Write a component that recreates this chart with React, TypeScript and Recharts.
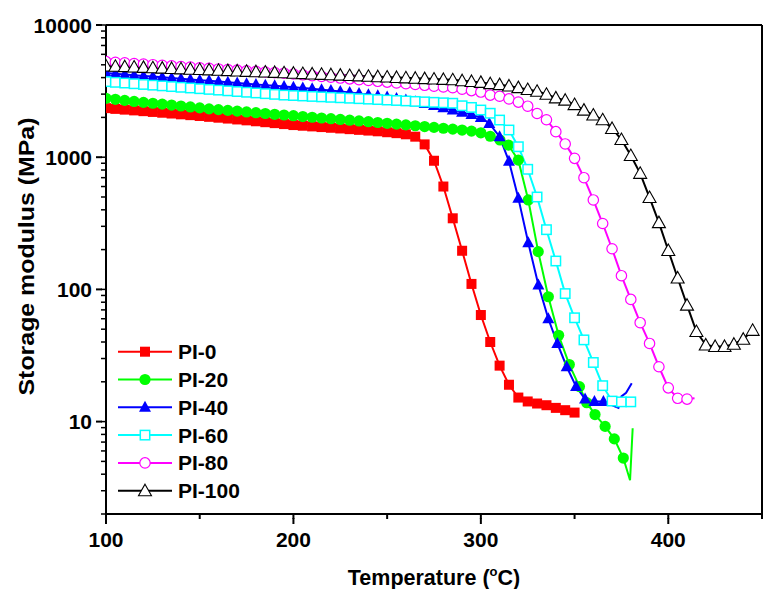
import React from 'react';
import { LineChart, Line, XAxis, YAxis, ReferenceLine } from 'recharts';

// ---------- data ----------
const pi0Temps = [100,105,110,115,120,125,130,135,140,145,150,155,160,165,170,175,180,185,190,195,200,205,210,215,220,225,230,235,240,245,250,255,260,265,270,275,280,285,290,295,300,305,310,315,320,325,330,335,340,345,350];
const pi0Values = [2350,2320,2290,2260,2230,2200,2170,2140,2110,2080,2050,2020,1990,1960,1930,1900,1870,1840,1810,1780,1750,1730,1710,1690,1670,1650,1630,1610,1590,1570,1545,1520,1490,1430,1250,940,600,345,196,110,64,40,26.5,19,15.2,14.2,13.7,13.3,12.7,12.2,11.7];

const pi20Temps = [100,105,110,115,120,125,130,135,140,145,150,155,160,165,170,175,180,185,190,195,200,205,210,215,220,225,230,235,240,245,250,255,260,265,270,275,280,285,290,295,300,305,310.2,314.7,320,325.3,330.6,336,341.5,347.2,352.6,356.5,360.9,366.3,371.2,376,379.6,381];
const pi20Values = [2790,2740,2690,2640,2600,2560,2520,2480,2440,2400,2360,2320,2290,2260,2230,2200,2170,2140,2110,2085,2060,2030,2005,1980,1955,1930,1905,1880,1855,1830,1805,1780,1755,1730,1705,1680,1655,1630,1605,1575,1530,1440,1349,1236,950,475,193,88,45,27,18.4,13.9,11.3,9.2,7.4,5.3,3.6,8.9];

const pi40Temps = [100,105,110,115,120,125,130,135,140,145,150,155,160,165,170,175,180,185,190,195,200,205,210,215,220,225,230,235,240,245,250,255,260,265,270,275,280,285,290,295,300,304.5,310,315,320,325.3,330.7,336,340.8,345.8,350.8,355.6,360.6,365.4,373.4,375,377.5,380.5];
const pi40Values = [4330,4277,4224,4172,4121,4070,4020,3971,3922,3874,3826,3779,3733,3687,3642,3597,3553,3509,3466,3423,3380,3335,3290,3240,3190,3140,3085,3030,2970,2910,2850,2780,2710,2630,2550,2460,2370,2280,2190,2100,2000,1800,1430,930,490,225,108,60,39,26,18.4,14.8,14.2,14.2,12.7,15.5,16.5,19.5];

const pi60Temps = [100,105,110,115,120,125,130,135,140,145,150,155,160,165,170,175,180,185,190,195,200,205,210,215,220,225,230,235,240,245,250,255,260,265,270,275,280,285,290,295,300,305,310,315,320,325,330,335,340,345,350,355,360,365,370,375,380];
const pi60Values = [3730,3684,3639,3594,3550,3507,3464,3421,3379,3338,3297,3257,3217,3177,3138,3100,3062,3024,2987,2950,2927,2904,2881,2859,2837,2815,2793,2771,2749,2728,2706,2685,2664,2643,2622,2601,2580,2560,2450,2380,2275,2150,1910,1606,1200,810,500,283,164,93,61,41.5,28,18.7,14.3,14.1,14.1];

const pi80Temps = [100,105,110,115,120,125,130,135,140,145,150,155,160,165,170,175,180,185,190,195,200,205,210,215,220,225,230,235,240,245,250,255,260,265,270,275,280,285,290,295,300,305,310,315,320,325,330,335,340,345,350,355,360,365,370,375,380,385,390,395,400,405,410,414];
const pi80Values = [5280,5225,5170,5115,5061,5008,4955,4903,4852,4801,4750,4700,4651,4602,4553,4506,4458,4411,4365,4320,4260,4200,4140,4082,4025,3970,3913,3860,3805,3752,3700,3648,3597,3547,3497,3448,3400,3352,3270,3190,3110,2950,2890,2760,2610,2430,2140,1920,1560,1260,980,700,475,315,203,127,84,56,39,26,18,15,14.8,15];

const pi100Temps = [100,105,110,115,120,125,130,135,140,145,150,155,160,165,170,175,180,185,190,195,200,205,210,215,220,225,230,235,240,245,250,255,260,265,270,275,280,285,290,295,300,305,310,315,320,325,330,335,340,345,350,355,360,365,370,375,380,385,390,395,400,405,410,415,420,425,430,435,440,445];
const pi100Values = [4900,4870,4839,4809,4779,4749,4720,4690,4661,4632,4603,4575,4546,4518,4490,4462,4434,4407,4379,4350,4321,4291,4262,4234,4205,4177,4148,4120,4093,4065,4038,4010,3983,3956,3930,3903,3877,3850,3790,3740,3680,3600,3540,3460,3360,3250,3150,2990,2810,2700,2500,2270,2085,1920,1650,1360,1030,755,495,320,197,122,76,48,38,37,37,38.5,42,49];

const seriesNames = ['PI-0', 'PI-20', 'PI-40', 'PI-60', 'PI-80', 'PI-100'];
const xMajorTicks = [100, 200, 300, 400];
const xTicks = [100, 150, 200, 250, 300, 350, 400, 450];
const yMajorTicks = [10, 100, 1000, 10000];
const yTicks = [2,3,4,5,6,7,8,9,10,20,30,40,50,60,70,80,90,100,200,300,400,500,600,700,800,900,1000,2000,3000,4000,5000,6000,7000,8000,9000,10000];

// ---------- styles ----------
const FONT = '"Liberation Sans", Arial, Helvetica, sans-serif';
type Shape = 'square' | 'circle' | 'triangle' | 'squareOpen' | 'circleOpen' | 'triangleOpen';

const build = (temps: number[], values: number[]) => temps.map((t, i) => ({ t, v: values[i] }));

const series = [
  { name: seriesNames[0], data: build(pi0Temps, pi0Values), color: '#FF0000', shape: 'square' as Shape, tail: 0 },
  { name: seriesNames[1], data: build(pi20Temps, pi20Values), color: '#00FF00', shape: 'circle' as Shape, tail: 2 },
  { name: seriesNames[2], data: build(pi40Temps, pi40Values), color: '#0000FF', shape: 'triangle' as Shape, tail: 4 },
  { name: seriesNames[3], data: build(pi60Temps, pi60Values), color: '#00FFFF', shape: 'squareOpen' as Shape, tail: 0 },
  { name: seriesNames[4], data: build(pi80Temps, pi80Values), color: '#FF00FF', shape: 'circleOpen' as Shape, tail: 1 },
  { name: seriesNames[5], data: build(pi100Temps, pi100Values), color: '#000000', shape: 'triangleOpen' as Shape, tail: 0 },
];

function MarkerShape({ shape, color, cx, cy }: { shape: Shape; color: string; cx: number; cy: number }) {
  switch (shape) {
    case 'square':
      return <rect x={cx - 5} y={cy - 5} width={10} height={10} fill={color} />;
    case 'circle':
      return <circle cx={cx} cy={cy} r={5.6} fill={color} />;
    case 'triangle':
      return <polygon points={`${cx},${cy - 6.5} ${cx + 6},${cy + 4.5} ${cx - 6},${cy + 4.5}`} fill={color} />;
    case 'squareOpen':
      return <rect x={cx - 4.7} y={cy - 4.7} width={9.4} height={9.4} fill="#fff" stroke={color} strokeWidth={1.5} />;
    case 'circleOpen':
      return <circle cx={cx} cy={cy} r={5.2} fill="#fff" stroke={color} strokeWidth={1.2} />;
    case 'triangleOpen':
    default:
      return <polygon points={`${cx},${cy - 6.5} ${cx + 6.5},${cy + 5} ${cx - 6.5},${cy + 5}`} fill="#fff" stroke={color} strokeWidth={1.1} />;
  }
}

const makeDot = (shape: Shape, color: string, count: number) => (props: any) => {
  const { cx, cy, index } = props;
  if (cx == null || cy == null || index >= count) return <g key={`d-${index}`} />;
  return (
    <g key={`d-${index}`}>
      <MarkerShape shape={shape} color={color} cx={cx} cy={cy} />
    </g>
  );
};

// tick props: (x, y) sit at the end of the native 5px tick line
const XTick = (props: any) => {
  const { x, y, payload } = props;
  const v = payload.value;
  const major = xMajorTicks.includes(v);
  if (!major) return <g />;
  return (
    <g>
      <line x1={x} x2={x} y1={y - 1} y2={y + 5} stroke="#000" strokeWidth={2} />
      <text x={x} y={y + 28} textAnchor="middle" fontFamily={FONT} fontWeight="bold" fontSize={21} fill="#000">
        {v}
      </text>
    </g>
  );
};

const YTick = (props: any) => {
  const { x, y, payload } = props;
  const v = payload.value;
  const major = yMajorTicks.includes(v);
  if (!major) return <g />;
  return (
    <g>
      <line x1={x + 1} x2={x - 5} y1={y} y2={y} stroke="#000" strokeWidth={2} />
      <text x={x - 9} y={y} dy="0.36em" textAnchor="end" fontFamily={FONT} fontWeight="bold" fontSize={21} fill="#000">
        {v}
      </text>
    </g>
  );
};

const XTitle = (props: any) => {
  const vb = props.viewBox;
  const cx = vb.x + vb.width / 2;
  const by = vb.y + 71;
  return (
    <text x={cx} y={by} textAnchor="middle" fontFamily={FONT} fontWeight="bold" fontSize={21.5} fill="#000">
      Temperature (
      <tspan dy={-9} fontSize={13}>o</tspan>
      <tspan dy={9}>C)</tspan>
    </text>
  );
};

const YTitle = (props: any) => {
  const vb = props.viewBox;
  const cx = 18;
  const cy = vb.y + vb.height / 2 - 13;
  return (
    <text
      x={cx}
      y={cy}
      transform={`rotate(-90, ${cx}, ${cy})`}
      textAnchor="middle"
      dy="0.36em"
      fontFamily={FONT}
      fontWeight="bold"
      fontSize={22}
      textLength={278}
      lengthAdjust="spacingAndGlyphs"
      fill="#000"
    >
      Storage modulus (MPa)
    </text>
  );
};

function LegendBox() {
  return (
    <svg width={150} height={175} style={{ position: 'absolute', left: 100, top: 330 }}>
      {series.map((s, i) => {
        const y = 13.7 + i * 27.8;
        return (
          <g key={s.name}>
            <line x1={10} x2={64} y1={y} y2={y} stroke={s.color} strokeWidth={2} />
            <MarkerShape shape={s.shape} color={s.color} cx={37} cy={y} />
            <text x={70} y={y} dy="0.36em" fontFamily={FONT} fontWeight="bold" fontSize={21} fill="#000">
              {s.name}
            </text>
          </g>
        );
      })}
    </svg>
  );
}

export default function App() {
  return (
    <div style={{ position: 'relative', width: 773, height: 581 }}>
      <LineChart width={773} height={581} margin={{ top: 17, right: 19, left: 0, bottom: 0 }}>
        <XAxis
          type="number"
          dataKey="t"
          domain={[100, 450]}
          ticks={xTicks}
          interval={0}
          tickSize={5}
          tickMargin={0}
          tickLine={{ stroke: '#000', strokeWidth: 2 }}
          tick={<XTick />}
          axisLine={{ stroke: '#000', strokeWidth: 2 }}
          height={75}
          allowDataOverflow
          label={(p: any) => <XTitle {...p} />}
        />
        <YAxis
          type="number"
          dataKey="v"
          scale="log"
          domain={[2, 10000]}
          ticks={yTicks}
          interval={0}
          tickSize={5}
          tickMargin={0}
          tickLine={{ stroke: '#000', strokeWidth: 1.5 }}
          tick={<YTick />}
          axisLine={{ stroke: '#000', strokeWidth: 2 }}
          width={98}
          allowDataOverflow
          label={(p: any) => <YTitle {...p} />}
        />
        <ReferenceLine y={10000} stroke="#000" strokeWidth={2} />
        <ReferenceLine x={450} stroke="#000" strokeWidth={2} />
        {series.map((s) => (
          <Line
            key={s.name}
            data={s.data}
            dataKey="v"
            name={s.name}
            type="linear"
            stroke={s.color}
            strokeWidth={2}
            dot={makeDot(s.shape, s.color, s.data.length - s.tail)}
            activeDot={false}
            isAnimationActive={false}
          />
        ))}
      </LineChart>
      <LegendBox />
    </div>
  );
}
